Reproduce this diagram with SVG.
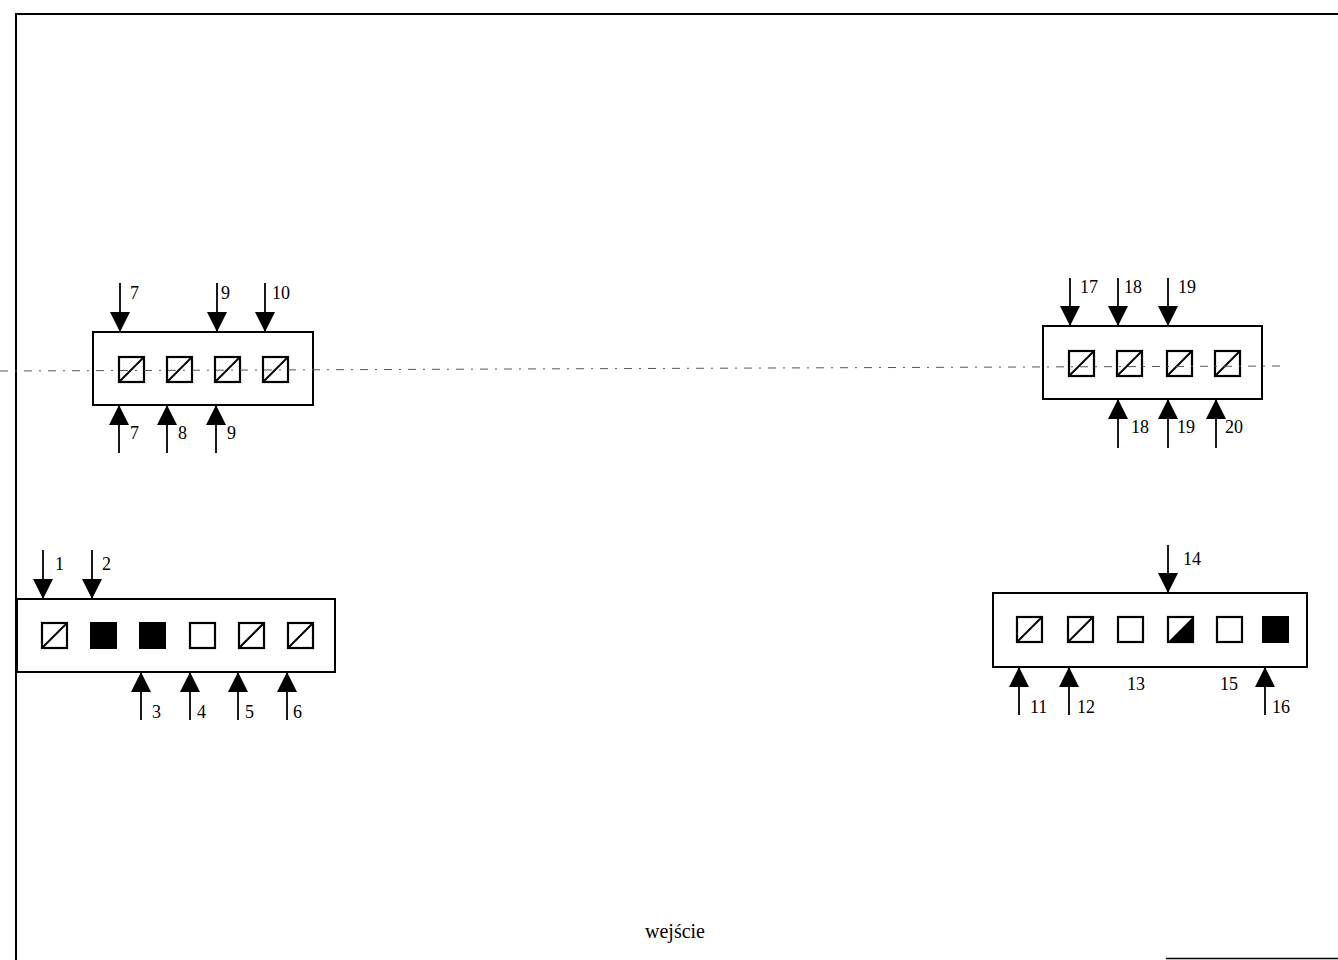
<svg xmlns="http://www.w3.org/2000/svg" xmlns:xlink="http://www.w3.org/1999/xlink" width="1338" height="960" viewBox="0 0 1338 960">
<style>
.frame{fill:none;stroke:#000;stroke-width:2}
.box{fill:#fff;stroke:#000;stroke-width:2}
.sq{fill:#fff;stroke:#000;stroke-width:2.2}
.dg{stroke:#000;stroke-width:2}
.arr{stroke:#000;stroke-width:1.8;fill:none;marker-end:url(#ah)}
.lbl{font-family:"Liberation Serif","Times New Roman",serif;font-size:18px;fill:#000}
.center{stroke:#555;stroke-width:1;stroke-dasharray:8 7 2 7;fill:none}
</style>
<defs>
<marker id="ah" viewBox="0 0 20 20" refX="20" refY="10" markerWidth="20" markerHeight="20" markerUnits="userSpaceOnUse" orient="auto">
<path d="M0,0 L20,10 L0,20 Z" fill="#000"/>
</marker>
<g id="sqd"><rect class="sq" x="0" y="0" width="25" height="25"/><line class="dg" x1="0" y1="25" x2="25" y2="0"/></g>
<g id="sqe"><rect class="sq" x="0" y="0" width="25" height="25"/></g>
<g id="sqb"><rect x="0" y="0" width="25" height="25" fill="#000" stroke="#000" stroke-width="2"/></g>
<g id="sqh"><rect class="sq" x="0" y="0" width="25" height="25"/><polygon points="0,25 25,0 25,25" fill="#000"/></g>
</defs>

<g id="frame">
<polyline class="frame" points="16,960 16,14 1338,14"/>
<line x1="1166" y1="958.5" x2="1338" y2="958.5" stroke="#000" stroke-width="1.5"/>
</g>

<g id="box1">
<rect class="box" x="93" y="332" width="220" height="73"/>
<use xlink:href="#sqd" x="119" y="357"/>
<use xlink:href="#sqd" x="167" y="357"/>
<use xlink:href="#sqd" x="215" y="357"/>
<use xlink:href="#sqd" x="263" y="357"/>
</g>

<g id="box2">
<rect class="box" x="1043" y="326" width="219" height="73"/>
<use xlink:href="#sqd" x="1069" y="351"/>
<use xlink:href="#sqd" x="1117" y="351"/>
<use xlink:href="#sqd" x="1167" y="351"/>
<use xlink:href="#sqd" x="1215" y="351"/>
</g>

<g id="box3">
<rect class="box" x="17" y="599" width="318" height="73"/>
<use xlink:href="#sqd" x="42" y="623"/>
<use xlink:href="#sqb" x="91" y="623"/>
<use xlink:href="#sqb" x="140" y="623"/>
<use xlink:href="#sqe" x="190" y="623"/>
<use xlink:href="#sqd" x="239" y="623"/>
<use xlink:href="#sqd" x="288" y="623"/>
</g>

<g id="box4">
<rect class="box" x="993" y="593" width="314" height="74"/>
<use xlink:href="#sqd" x="1017" y="617"/>
<use xlink:href="#sqd" x="1068" y="617"/>
<use xlink:href="#sqe" x="1118" y="617"/>
<use xlink:href="#sqh" x="1168" y="617"/>
<use xlink:href="#sqe" x="1217" y="617"/>
<use xlink:href="#sqb" x="1263" y="617"/>
</g>

<g id="centerline">
<line class="center" x1="0" y1="371" x2="1282" y2="366"/>
</g>

<g id="connectors">
<line class="arr" x1="120" y1="283" x2="120" y2="332"/>
<line class="arr" x1="217" y1="283" x2="217" y2="332"/>
<line class="arr" x1="265" y1="283" x2="265" y2="332"/>
<line class="arr" x1="119" y1="453" x2="119" y2="405"/>
<line class="arr" x1="167" y1="453" x2="167" y2="405"/>
<line class="arr" x1="216" y1="453" x2="216" y2="405"/>

<line class="arr" x1="1070" y1="278" x2="1070" y2="326"/>
<line class="arr" x1="1118" y1="278" x2="1118" y2="326"/>
<line class="arr" x1="1168" y1="278" x2="1168" y2="326"/>
<line class="arr" x1="1118" y1="448" x2="1118" y2="399"/>
<line class="arr" x1="1168" y1="448" x2="1168" y2="399"/>
<line class="arr" x1="1216" y1="448" x2="1216" y2="399"/>

<line class="arr" x1="43" y1="550" x2="43" y2="599"/>
<line class="arr" x1="92" y1="550" x2="92" y2="599"/>
<line class="arr" x1="141" y1="720" x2="141" y2="672"/>
<line class="arr" x1="190" y1="720" x2="190" y2="672"/>
<line class="arr" x1="238" y1="720" x2="238" y2="672"/>
<line class="arr" x1="287" y1="720" x2="287" y2="672"/>

<line class="arr" x1="1168" y1="545" x2="1168" y2="593"/>
<line class="arr" x1="1019" y1="715" x2="1019" y2="667"/>
<line class="arr" x1="1069" y1="715" x2="1069" y2="667"/>
<line class="arr" x1="1265" y1="715" x2="1265" y2="667"/>
</g>

<g id="labels">
<text class="lbl" x="130" y="299">7</text>
<text class="lbl" x="221" y="299">9</text>
<text class="lbl" x="272" y="299">10</text>
<text class="lbl" x="130" y="439">7</text>
<text class="lbl" x="178" y="439">8</text>
<text class="lbl" x="227" y="439">9</text>

<text class="lbl" x="1080" y="293">17</text>
<text class="lbl" x="1124" y="293">18</text>
<text class="lbl" x="1178" y="293">19</text>
<text class="lbl" x="1131" y="433">18</text>
<text class="lbl" x="1177" y="433">19</text>
<text class="lbl" x="1225" y="433">20</text>

<text class="lbl" x="55" y="570">1</text>
<text class="lbl" x="102" y="570">2</text>
<text class="lbl" x="152" y="718">3</text>
<text class="lbl" x="197" y="718">4</text>
<text class="lbl" x="245" y="718">5</text>
<text class="lbl" x="293" y="718">6</text>

<text class="lbl" x="1183" y="565">14</text>
<text class="lbl" x="1127" y="690">13</text>
<text class="lbl" x="1220" y="690">15</text>
<text class="lbl" x="1030" y="713">11</text>
<text class="lbl" x="1077" y="713">12</text>
<text class="lbl" x="1272" y="713">16</text>

<text x="645" y="938" style="font-family:'Liberation Serif','Times New Roman',serif;font-size:20px;fill:#000">wejście</text>
</g>
</svg>
